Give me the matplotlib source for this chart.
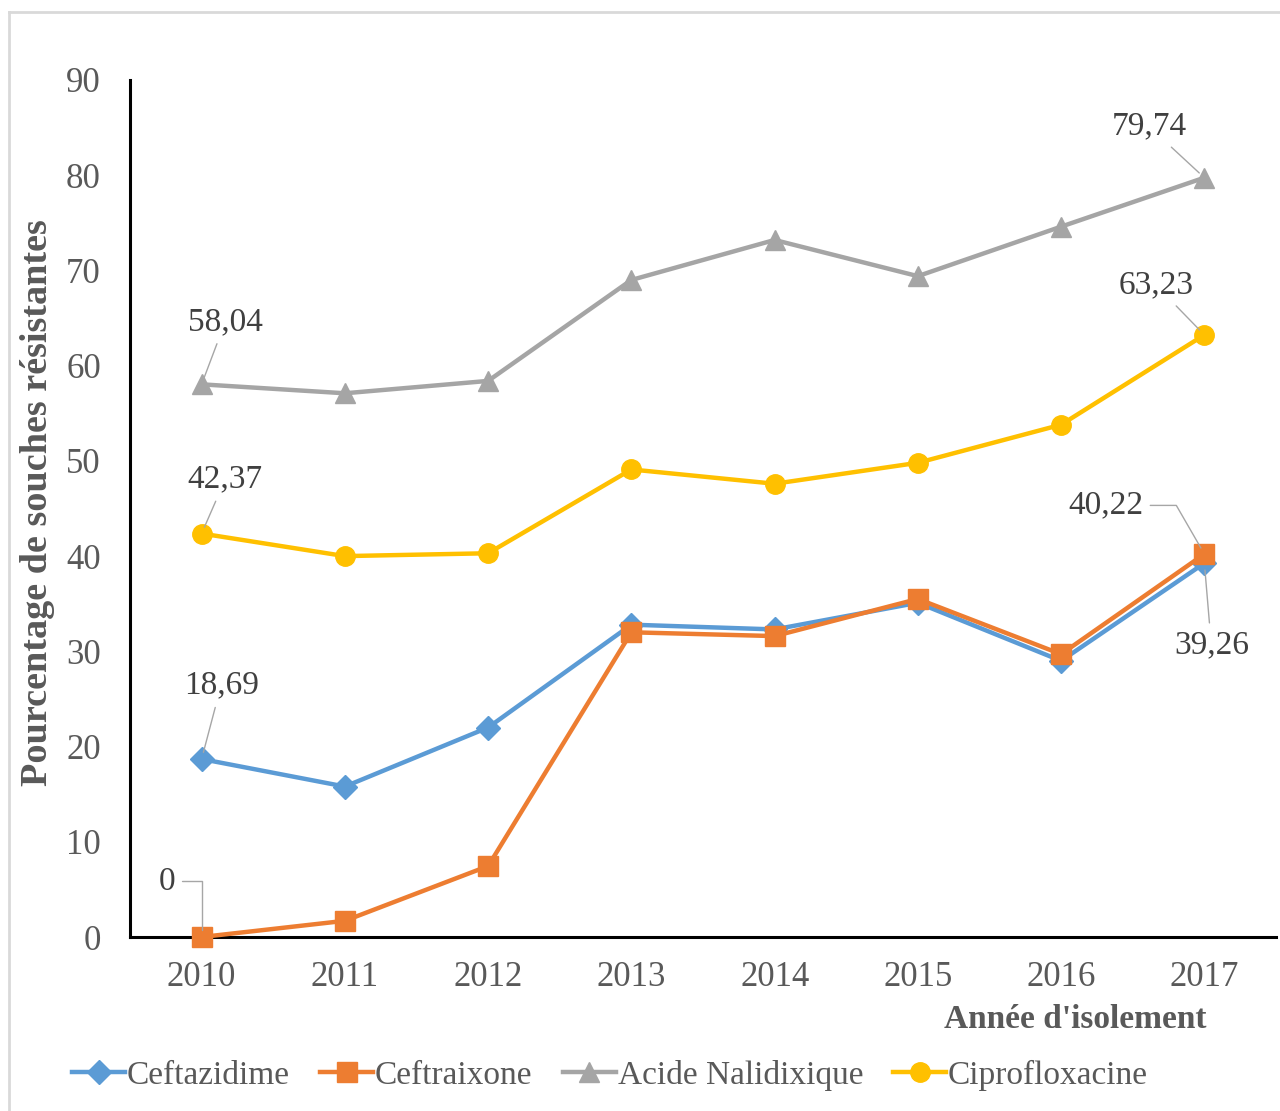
import matplotlib
matplotlib.use("Agg")
import matplotlib.pyplot as plt
from matplotlib.lines import Line2D

# data
years = ["2010", "2011", "2012", "2013", "2014", "2015", "2016", "2017"]
ceftazidime = [18.69, 15.8, 22.0, 32.8, 32.3, 35.1, 29.0, 39.26]
ceftraixone = [0, 1.7, 7.45, 32.0, 31.6, 35.5, 29.7, 40.22]
nalidixique = [58.04, 57.1, 58.4, 69.0, 73.2, 69.4, 74.6, 79.74]
ciprofloxacine = [42.37, 40.0, 40.3, 49.1, 47.6, 49.8, 53.8, 63.23]
series_names = ["Ceftazidime", "Ceftraixone", "Acide Nalidixique", "Ciprofloxacine"]
y_ticks = [0, 10, 20, 30, 40, 50, 60, 70, 80, 90]

plt.rcParams["font.family"] = ["Liberation Serif", "DejaVu Serif"]
grey_text = "#595959"

fig = plt.figure(figsize=(12.8, 11.11), dpi=100)
ax = fig.add_axes([130 / 1280, 1 - 937 / 1111, 1146 / 1280, 857 / 1111])

x = list(range(len(years)))
styles = [
    (ceftazidime, "#5B9BD5", "D", 12),
    (ceftraixone, "#ED7D31", "s", 14),
    (nalidixique, "#A5A5A5", "^", 15),
    (ciprofloxacine, "#FFC000", "o", 14),
]
for (vals, col, mk, ms), name in zip(styles, series_names):
    ax.plot(x, vals, color=col, marker=mk, markersize=ms, linewidth=3.2,
            label=name, clip_on=False, zorder=3)

ax.set_xlim(-0.5, 7.5)
ax.set_ylim(0, 90)
ax.set_xticks(x)
ax.set_xticklabels(years)
ax.set_yticks(y_ticks)
ax.tick_params(axis="both", length=0, labelsize=25, labelcolor=grey_text)
ax.tick_params(axis="y", pad=21)
ax.tick_params(axis="x", pad=17)
for s in ["top", "right"]:
    ax.spines[s].set_visible(False)
for s in ["left", "bottom"]:
    ax.spines[s].set_linewidth(2.2)
    ax.spines[s].set_color("black")

# data labels with leader lines (offsets in points)
labels = [
    (0, 58.04, "58,04", (17, 45), "arc3"),
    (0, 42.37, "42,37", (17, 39), "arc3"),
    (0, 18.69, "18,69", (14, 53), "arc3"),
    (0, 0, "0", (-25, 40), "angle,angleA=0,angleB=90,rad=0"),
    (7, 79.74, "79,74", (-40, 37), "arc3"),
    (7, 63.23, "63,23", (-35, 36), "arc3"),
    (7, 40.22, "40,22", (-71, 35), "angle,angleA=0,angleB=120,rad=0"),
    (7, 39.26, "39,26", (5, -59), "arc3"),
]
for xi, yi, txt, off, cs in labels:
    ax.annotate(txt, xy=(xi, yi), xytext=off, textcoords="offset points",
                ha="center", va="center", fontsize=24, color="#404040",
                annotation_clip=False,
                arrowprops=dict(arrowstyle="-", color="#A6A6A6", lw=1,
                                shrinkA=3, shrinkB=5, connectionstyle=cs))

fig.text(38 / 1280, 1 - 503 / 1111, "Pourcentage de souches résistantes",
         rotation=90, ha="center", va="center", fontsize=27.5,
         fontweight="bold", color=grey_text)
fig.text(1207 / 1280, 1 - 1020 / 1111, "Année d'isolement",
         ha="right", va="center", fontsize=24, fontweight="bold",
         color=grey_text)

fig.legend(loc="center", bbox_to_anchor=(610 / 1280, 1 - 1075 / 1111),
           ncol=4, frameon=False, fontsize=24, handlelength=1.6,
           handletextpad=0.05, columnspacing=0.9, labelcolor=grey_text)

# thin grey frame around the chart area
fig.add_artist(Line2D([9 / 1280, 1], [1 - 12 / 1111, 1 - 12 / 1111],
                      transform=fig.transFigure, color="#D9D9D9", lw=2))
fig.add_artist(Line2D([9 / 1280, 9 / 1280], [0, 1 - 12 / 1111],
                      transform=fig.transFigure, color="#D9D9D9", lw=2))

fig.savefig("out.png", dpi=100)
